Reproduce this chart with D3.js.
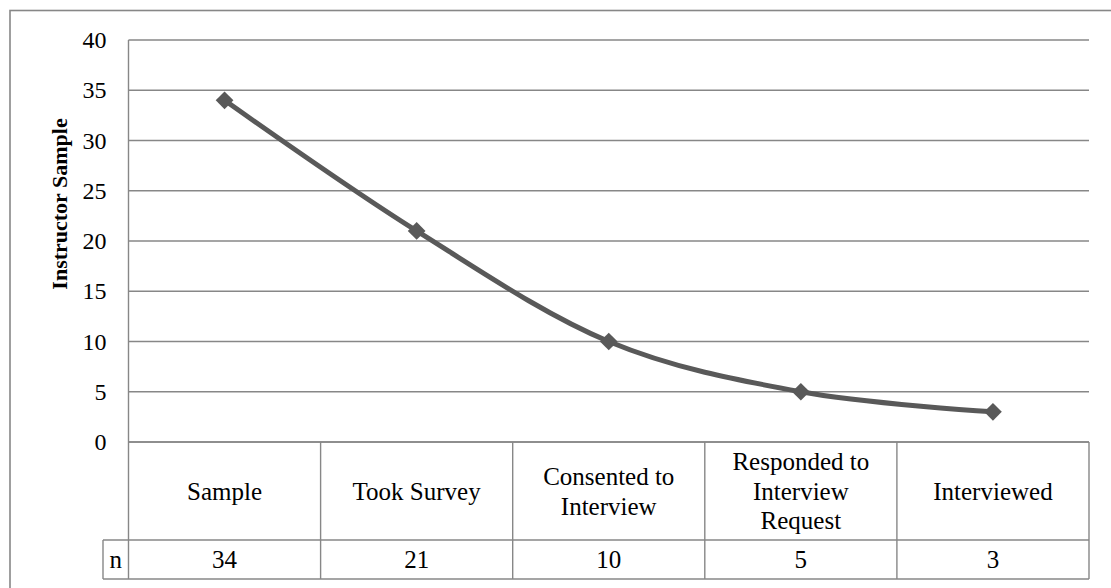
<!DOCTYPE html>
<html>
<head>
<meta charset="utf-8">
<script src="https://cdn.jsdelivr.net/npm/d3@7"></script>
<style>
  html, body { margin: 0; padding: 0; background: #fff; }
  svg { display: block; }
</style>
</head>
<body>
<svg id="chart" width="1111" height="588"></svg>
<script>
const categories = ["Sample", "Took Survey", "Consented to Interview", "Responded to Interview Request", "Interviewed"];
const values = [34, 21, 10, 5, 3];
const yTicks = [0, 5, 10, 15, 20, 25, 30, 35, 40];
const yTitle = "Instructor Sample";
const seriesName = "n";

const FONT = '"Liberation Serif", "Times New Roman", serif';
const plot = { left: 128.5, right: 1089, top: 40, bottom: 442 };
const tableRows = { catBottom: 540, nBottom: 579, nLeft: 103 };
const gridColor = "#878787";
const lineColor = "#595959";

const svg = d3.select("#chart");

// outer frame (extends past the picture on right and bottom)
svg.append("rect")
  .attr("x", 10).attr("y", 10.5)
  .attr("width", 1120).attr("height", 600)
  .attr("fill", "none").attr("stroke", gridColor).attr("stroke-width", 1.6);

const x = d3.scaleBand().domain(categories).range([plot.left, plot.right]).padding(0);
const y = d3.scaleLinear().domain([0, 40]).range([plot.bottom, plot.top]);

// gridlines
svg.append("g").selectAll("line").data(yTicks).join("line")
  .attr("x1", plot.left).attr("x2", plot.right)
  .attr("y1", d => y(d)).attr("y2", d => y(d))
  .attr("stroke", gridColor).attr("stroke-width", 1.4);

// y axis tick labels
const yAxis = d3.axisLeft(y).tickValues(yTicks).tickSize(0).tickPadding(22);
const gy = svg.append("g").attr("transform", `translate(${plot.left},0)`).call(yAxis);
gy.attr("font-family", null).attr("font-size", null);
gy.select(".domain").remove();
gy.selectAll("text")
  .style("font-family", FONT)
  .style("font-size", "24px").attr("fill", "#000");

// y axis line through table
svg.append("line")
  .attr("x1", plot.left).attr("x2", plot.left)
  .attr("y1", plot.top).attr("y2", tableRows.nBottom)
  .attr("stroke", gridColor).attr("stroke-width", 1.4);

// y title
svg.append("text")
  .attr("transform", `translate(67,204) rotate(-90)`)
  .attr("text-anchor", "middle")
  .style("font-family", FONT)
  .style("font-size", "22px").style("font-weight", "bold")
  .attr("fill", "#000")
  .text(yTitle);

// data table
const tbl = svg.append("g");
const hl = (x1, x2, yy) => tbl.append("line").attr("x1", x1).attr("x2", x2)
  .attr("y1", yy).attr("y2", yy).attr("stroke", gridColor).attr("stroke-width", 1.4);
hl(plot.left, plot.right, plot.bottom);
hl(tableRows.nLeft, plot.right, tableRows.catBottom);
hl(tableRows.nLeft, plot.right, tableRows.nBottom);
tbl.append("line").attr("x1", tableRows.nLeft).attr("x2", tableRows.nLeft)
  .attr("y1", tableRows.catBottom).attr("y2", tableRows.nBottom)
  .attr("stroke", gridColor).attr("stroke-width", 1.4);
tbl.selectAll("line.sep").data(categories).join("line").attr("class", "sep")
  .attr("x1", d => x(d) + x.bandwidth()).attr("x2", d => x(d) + x.bandwidth())
  .attr("y1", plot.bottom).attr("y2", tableRows.nBottom)
  .attr("stroke", gridColor).attr("stroke-width", 1.4);

// category labels with wrapping
const catSize = "25px";
const maxW = 160, lineH = 29.5;
const catMid = (plot.bottom + tableRows.catBottom) / 2;
categories.forEach(c => {
  const probe = svg.append("text").style("font-family", FONT).style("font-size", catSize);
  const words = c.split(" ");
  const lines = [];
  let cur = [];
  words.forEach(w => {
    probe.text(cur.concat([w]).join(" "));
    if (cur.length && probe.node().getComputedTextLength() > maxW) {
      lines.push(cur.join(" "));
      cur = [w];
    } else cur.push(w);
  });
  lines.push(cur.join(" "));
  probe.remove();
  const t = tbl.append("text")
    .attr("text-anchor", "middle")
    .style("font-family", FONT).style("font-size", catSize).attr("fill", "#000");
  const cx = x(c) + x.bandwidth() / 2;
  lines.forEach((ln, i) => {
    t.append("tspan")
      .attr("x", cx)
      .attr("y", catMid + (i - (lines.length - 1) / 2) * lineH)
      .attr("dy", "0.35em")
      .text(ln);
  });
});

// n row
const nMid = (tableRows.catBottom + tableRows.nBottom) / 2;
tbl.append("text").attr("x", (tableRows.nLeft + plot.left) / 2).attr("y", nMid)
  .attr("dy", "0.35em").attr("text-anchor", "middle")
  .style("font-family", FONT).style("font-size", catSize).attr("fill", "#000")
  .text(seriesName);
tbl.selectAll("text.val").data(values).join("text").attr("class", "val")
  .attr("x", (d, i) => x(categories[i]) + x.bandwidth() / 2)
  .attr("y", nMid).attr("dy", "0.35em").attr("text-anchor", "middle")
  .style("font-family", FONT).style("font-size", catSize).attr("fill", "#000")
  .text(d => d);

// series line
const pts = values.map((v, i) => [x(categories[i]) + x.bandwidth() / 2, y(v)]);
svg.append("path")
  .attr("d", d3.line().curve(d3.curveCatmullRom.alpha(0))(pts))
  .attr("fill", "none").attr("stroke", lineColor).attr("stroke-width", 5)
  .attr("stroke-linejoin", "round");

// diamond markers
svg.append("g").selectAll("path").data(pts).join("path")
  .attr("transform", d => `translate(${d[0]},${d[1]})`)
  .attr("d", d3.symbol().type(d3.symbolDiamond2).size(200))
  .attr("fill", lineColor);
</script>
</body>
</html>
